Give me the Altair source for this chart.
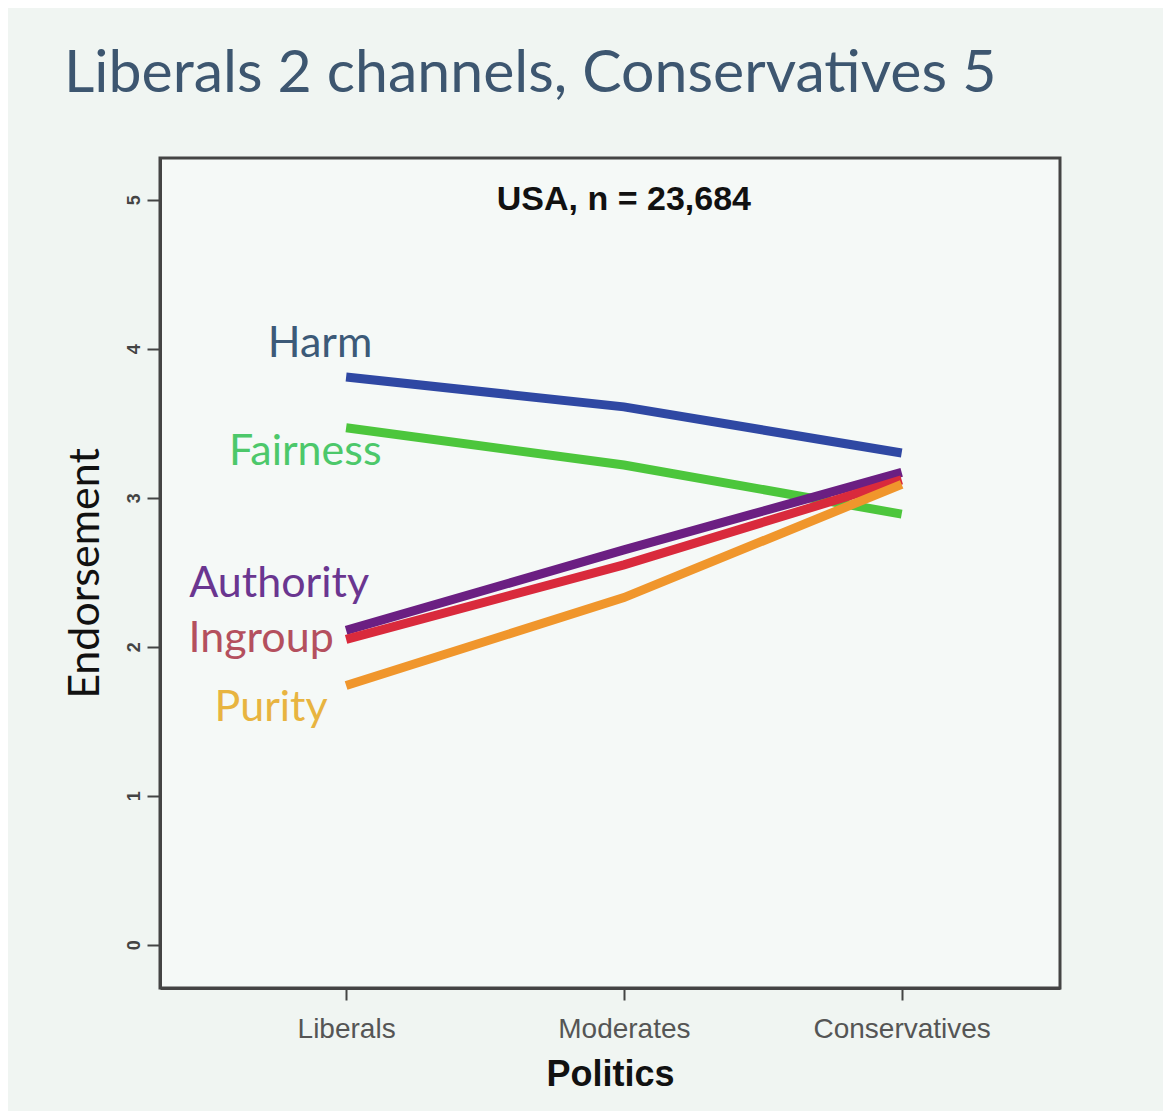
import altair as alt
import pandas as pd

# ---- data ----
politics = ["Liberals", "Moderates", "Conservatives"]
foundations = ["Harm", "Fairness", "Authority", "Ingroup", "Purity"]
harm = [3.81, 3.61, 3.30]
fairness = [3.47, 3.22, 2.89]
authority = [2.11, 2.65, 3.17]
ingroup = [2.05, 2.55, 3.12]
purity = [1.74, 2.33, 3.09]

label_x = [-0.094, -0.147, -0.241, -0.306, -0.27]
label_y = [4.03, 3.31, 2.42, 2.05, 1.59]

line_colors = ["#2f48a3", "#4cc63c", "#6b1f82", "#d92a3c", "#f0962c"]
label_colors = ["#3c5a78", "#4cc86a", "#6a3690", "#b4505e", "#e8b440"]

y_ticks = [0, 1, 2, 3, 4, 5]
note = "USA, n = 23,684"

series = [harm, fairness, authority, ingroup, purity]
rows = []
for f, vals in zip(foundations, series):
    for i, v in enumerate(vals):
        rows.append({"Foundation": f, "idx": i, "Politics": politics[i], "value": v})
df = pd.DataFrame(rows)
lab = pd.DataFrame({"Foundation": foundations, "lx": label_x, "ly": label_y})
note_df = pd.DataFrame({"nx": [1.0], "ny": [5.0], "t": [note]})

xscale = alt.Scale(domain=[-0.67, 2.57], nice=False, zero=False)
yscale = alt.Scale(domain=[-0.29, 5.28], nice=False, zero=False)

label_expr = "datum.value == 0 ? 'Liberals' : datum.value == 1 ? 'Moderates' : 'Conservatives'"

lines = alt.Chart(df).mark_line(strokeWidth=9, strokeCap="butt").encode(
    x=alt.X("idx:Q", scale=xscale, title="Politics",
            axis=alt.Axis(values=[0, 1, 2], labelExpr=label_expr)),
    y=alt.Y("value:Q", scale=yscale, title="Endorsement",
            axis=alt.Axis(values=y_ticks, format="d")),
    color=alt.Color("Foundation:N", scale=alt.Scale(domain=foundations, range=line_colors), legend=None),
    detail="Foundation:N",
)

labels = alt.Chart(lab).mark_text(font="Lato", fontSize=43, align="center", baseline="middle").encode(
    x=alt.X("lx:Q", scale=xscale),
    y=alt.Y("ly:Q", scale=yscale),
    text="Foundation:N",
    color=alt.Color("Foundation:N", scale=alt.Scale(domain=foundations, range=label_colors), legend=None),
)

notes = alt.Chart(note_df).mark_text(font="Liberation Sans", fontSize=34, fontWeight="bold",
                                     align="center", baseline="middle", color="#111111").encode(
    x=alt.X("nx:Q", scale=xscale),
    y=alt.Y("ny:Q", scale=yscale),
    text="t:N",
)

chart = alt.layer(lines, labels, notes).resolve_scale(color="independent").properties(
    width=900,
    height=830,
    autosize=alt.AutoSizeParams(type="none"),
    padding={"left": 152, "top": 150, "right": 103, "bottom": 123},
    background="#f0f5f2",
    title=alt.TitleParams(
        "Liberals 2 channels, Conservatives 5",
        anchor="start", dx=0, offset=54, font="Lato", fontSize=59,
        fontWeight="normal", color="#3d5670",
    ),
).configure_view(
    stroke="#444444", strokeWidth=3, fill="#f5f9f7",
).configure_axis(
    grid=False, domainColor="#444444", domainWidth=3, tickColor="#444444", tickWidth=2,
).configure_axisX(
    tickSize=12, labelFont="Liberation Sans", labelFontSize=28, labelColor="#555555",
    labelPadding=15, titleFont="Liberation Sans", titleFontSize=36, titleFontWeight="bold",
    titleColor="#111111", titlePadding=14,
).configure_axisY(
    tickSize=13, labelFont="Liberation Sans", labelFontSize=18, labelFontWeight="bold",
    labelColor="#444444", labelAngle=270, labelAlign="center", labelBaseline="bottom",
    labelPadding=4, titleFont="Lato", titleFontSize=43, titleFontWeight="normal",
    titleColor="#111111", titlePadding=18,
)

chart.save("out.html", embed_options={"renderer": "svg", "actions": False})
